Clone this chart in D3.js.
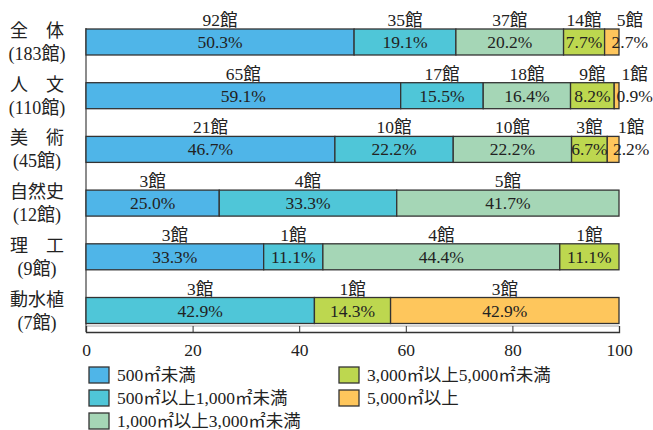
<!doctype html>
<html lang="ja">

<head>
    <meta charset="utf-8">
    <title>床面積別 館数</title>
    <script src="https://cdn.jsdelivr.net/npm/d3@7"></script>
    <style>
        body { margin: 0; background: #fff; }
        text { font-family: "Liberation Serif", "Noto Sans CJK JP", serif; fill: #222; }
    </style>
</head>

<body>
    <script>
        // categories (row labels) and number of museums in each
        var categories = ["全　体", "人　文", "美　術", "自然史", "理　工", "動水植"];
        var totals = [183, 110, 45, 12, 9, 7];

        // legend names for the five floor-area classes
        var seriesNames = ["500㎡未満", "500㎡以上1,000㎡未満", "1,000㎡以上3,000㎡未満",
                           "3,000㎡以上5,000㎡未満", "5,000㎡以上"];

        // percentages per class, one value per category
        var pctA = [50.3, 59.1, 46.7, 25.0, 33.3, 0];
        var pctB = [19.1, 15.5, 22.2, 33.3, 11.1, 42.9];
        var pctC = [20.2, 16.4, 22.2, 41.7, 44.4, 0];
        var pctD = [7.7, 8.2, 6.7, 0, 11.1, 14.3];
        var pctE = [2.7, 0.9, 2.2, 0, 0, 42.9];

        // counts per class (館)
        var cntA = [92, 65, 21, 3, 3, 0];
        var cntB = [35, 17, 10, 4, 1, 3];
        var cntC = [37, 18, 10, 5, 4, 0];
        var cntD = [14, 9, 3, 0, 1, 1];
        var cntE = [5, 1, 1, 0, 0, 3];

        var xTicks = [0, 20, 40, 60, 80, 100];

        var colors = ["#4fb5e8", "#4fc6d8", "#a5d6b6", "#bdd74f", "#fec65c"];

        var width = 653, height = 430;
        var svg = d3.select("body").append("svg")
            .attr("width", width)
            .attr("height", height);

        var x = d3.scaleLinear().domain([0, 100]).range([86, 619]);
        var y = d3.scaleBand().domain(categories).range([29, 323.5]).paddingInner(0.516);

        var pcts = [pctA, pctB, pctC, pctD, pctE];
        var cnts = [cntA, cntB, cntC, cntD, cntE];

        // build segments for each row (skip empty classes)
        var segs = [];
        categories.forEach(function(cat, i) {
            var sum = 0, cum = 0;
            pcts.forEach(function(p) { sum += p[i]; });
            pcts.forEach(function(p, k) {
                var v = p[i];
                if (v > 0) {
                    segs.push({ cat: cat, k: k, pct: v, cnt: cnts[k][i],
                                x0: cum / sum * 100, x1: (cum + v) / sum * 100 });
                }
                cum += v;
            });
        });

        // left frame line
        svg.append("line")
            .attr("x1", x(0)).attr("x2", x(0))
            .attr("y1", y(categories[0]) - 1).attr("y2", 332)
            .attr("stroke", "#666").attr("stroke-width", 1.5);

        // bars
        svg.selectAll("rect.seg")
            .data(segs)
            .enter()
            .append("rect")
            .attr("class", "seg")
            .attr("x", function(d) { return x(d.x0); })
            .attr("y", function(d) { return y(d.cat); })
            .attr("width", function(d) { return x(d.x1) - x(d.x0); })
            .attr("height", y.bandwidth())
            .attr("fill", function(d) { return colors[d.k]; })
            .attr("stroke", "#333")
            .attr("stroke-width", 1.3);

        // small segments get their labels pushed to the right
        function labelX(d) {
            var c = (x(d.x0) + x(d.x1)) / 2;
            return d.pct < 5 ? c + 18 : c;
        }

        // percentage labels inside bars
        svg.selectAll("text.pct")
            .data(segs)
            .enter()
            .append("text")
            .attr("class", "pct")
            .attr("text-anchor", "middle")
            .attr("x", labelX)
            .attr("y", function(d) { return y(d.cat) + y.bandwidth() / 2 + 6; })
            .attr("font-size", "17.5px")
            .text(function(d) { return d.pct.toFixed(1) + "%"; });

        // count labels above bars
        svg.selectAll("text.cnt")
            .data(segs)
            .enter()
            .append("text")
            .attr("class", "cnt")
            .attr("text-anchor", "middle")
            .attr("x", labelX)
            .attr("y", function(d) { return y(d.cat) - 3; })
            .attr("font-size", "17.5px")
            .text(function(d) { return d.cnt + "館"; });

        // category labels, two lines each
        var catG = svg.selectAll("g.cat")
            .data(categories)
            .enter()
            .append("g")
            .attr("class", "cat")
            .attr("transform", function(d) {
                return "translate(37," + (y(d) + y.bandwidth() / 2) + ")";
            });
        catG.append("text")
            .attr("text-anchor", "middle")
            .attr("y", -5)
            .attr("font-size", "18px")
            .text(function(d) { return d; });
        catG.append("text")
            .attr("text-anchor", "middle")
            .attr("y", 18)
            .attr("font-size", "18px")
            .text(function(d, i) { return "(" + totals[i] + "館)"; });

        // x axis: gray inner line plus box-like axis with upward ticks
        svg.append("line")
            .attr("x1", x(0)).attr("x2", x(100))
            .attr("y1", 326).attr("y2", 326)
            .attr("stroke", "#aaa").attr("stroke-width", 1);

        var axis = svg.append("g")
            .attr("transform", "translate(0,332)")
            .call(d3.axisBottom(x).tickValues(xTicks).tickSize(-6).tickPadding(12));
        axis.select(".domain").attr("stroke", "#333").attr("stroke-width", 1.3);
        axis.selectAll(".tick line").attr("stroke", "#333");
        axis.selectAll(".tick text")
            .attr("font-size", "17.5px")
            .attr("fill", "#222");

        // legend
        var legendPos = [[89, 367], [89, 390], [89, 413], [339, 367], [339, 390]];
        var leg = svg.selectAll("g.leg")
            .data(seriesNames)
            .enter()
            .append("g")
            .attr("class", "leg")
            .attr("transform", function(d, i) {
                return "translate(" + legendPos[i][0] + "," + legendPos[i][1] + ")";
            });
        leg.append("rect")
            .attr("width", 20)
            .attr("height", 16)
            .attr("fill", function(d, i) { return colors[i]; })
            .attr("stroke", "#333")
            .attr("stroke-width", 1.3);
        leg.append("text")
            .attr("x", 28)
            .attr("y", 14)
            .attr("font-size", "17.5px")
            .text(function(d) { return d; });
    </script>
</body>

</html>
